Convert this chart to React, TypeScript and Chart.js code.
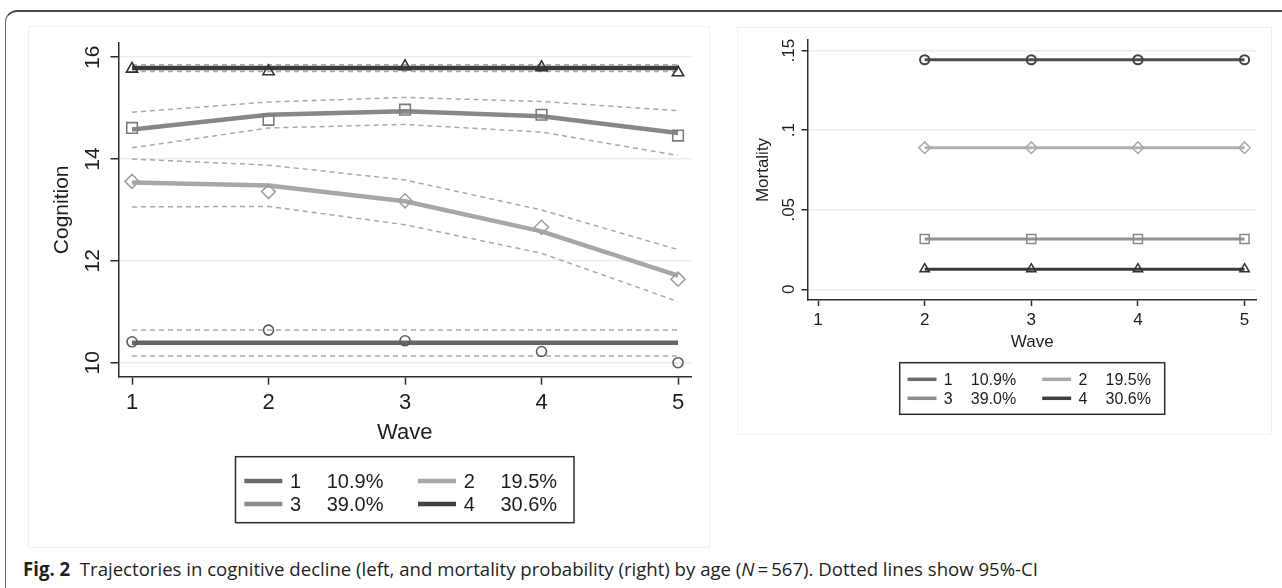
import React, { useEffect, useRef } from 'react';
import { Chart, registerables } from 'chart.js';

Chart.register(...registerables);

// ---------------- data ----------------
const waves = [1, 2, 3, 4, 5];
const mortWaves = [2, 3, 4, 5];
const cogTicks = [10, 12, 14, 16];
const cogTickLabels = ['10', '12', '14', '16'];
const mortTicks = [0, 0.05, 0.1, 0.15];
const mortTickLabels = ['0', '.05', '.1', '.15'];
const groupKeys = ['1', '2', '3', '4'];
const groupShares = ['10.9%', '19.5%', '39.0%', '30.6%'];

// fitted trajectories (cognition)
const cogFit1 = [10.39, 10.39, 10.39, 10.39, 10.39];
const cogFit2 = [13.54, 13.48, 13.17, 12.58, 11.71];
const cogFit3 = [14.58, 14.87, 14.94, 14.84, 14.51];
const cogFit4 = [15.79, 15.79, 15.79, 15.79, 15.79];
// observed means (markers)
const cogObs1 = [10.41, 10.64, 10.43, 10.22, 10.0];
const cogObs2 = [13.56, 13.36, 13.18, 12.66, 11.64];
const cogObs3 = [14.61, 14.77, 14.97, 14.87, 14.46];
const cogObs4 = [15.77, 15.72, 15.82, 15.8, 15.7];
// 95% CI bounds
const cogLo1 = [10.13, 10.13, 10.13, 10.13, 10.13];
const cogHi1 = [10.64, 10.64, 10.64, 10.64, 10.64];
const cogLo2 = [13.06, 13.07, 12.71, 12.15, 11.2];
const cogHi2 = [14.0, 13.88, 13.59, 13.0, 12.22];
const cogLo3 = [14.22, 14.61, 14.68, 14.53, 14.07];
const cogHi3 = [14.92, 15.12, 15.21, 15.13, 14.95];
const cogLo4 = [15.72, 15.72, 15.72, 15.72, 15.72];
const cogHi4 = [15.85, 15.85, 15.85, 15.85, 15.85];

// mortality probabilities
const mort1 = [0.1443, 0.1443, 0.1443, 0.1443];
const mort2 = [0.089, 0.089, 0.089, 0.089];
const mort3 = [0.0316, 0.0316, 0.0316, 0.0316];
const mort4 = [0.0127, 0.0127, 0.0127, 0.0127];

// ---------------- styles ----------------
const FONT = '"Liberation Sans", Arial, Helvetica, sans-serif';
const AXIS = '#2e2e2e';
const GRID = '#ebebeb';
const TEXT = '#1e1e1e';
const CI_COLOR = '#a9a9a9';
const pointStyles = ['circle', 'rectRot', 'rect', 'triangle'];
const leftLineColors = ['#676767', '#a7a7a7', '#878787', '#3b3b3b'];
const leftMarkColors = ['#5c5c5c', '#a0a0a0', '#7c7c7c', '#333333'];
const leftMarkRadii = [5, 7, 7.5, 6.5];
const rightLineColors = ['#4e4e4e', '#b0b0b0', '#939393', '#3a3a3a'];
const rightMarkColors = ['#444444', '#aaaaaa', '#8a8a8a', '#333333'];
const rightMarkRadii = [4.6, 5.8, 6.4, 5.4];
const legendColors = ['#6b6b6b', '#a9a9a9', '#8c8c8c', '#404040'];

const pts = (xs: number[], ys: number[]) => xs.map((x, i) => ({ x, y: ys[i] }));

function lineDs(xs: number[], ys: number[], color: string, width: number, dash: number[], order: number) {
  return {
    data: pts(xs, ys),
    showLine: true,
    borderColor: color,
    backgroundColor: color,
    borderWidth: width,
    borderDash: dash,
    borderCapStyle: 'butt',
    borderJoinStyle: 'round',
    pointRadius: 0,
    pointHoverRadius: 0,
    tension: 0,
    fill: false,
    order,
  };
}

function markDs(xs: number[], ys: number[], style: string, color: string, radius: number, bw: number) {
  return {
    data: pts(xs, ys),
    showLine: false,
    pointStyle: style,
    pointRadius: radius,
    pointHoverRadius: radius,
    pointBorderColor: color,
    pointBackgroundColor: 'rgba(0,0,0,0)',
    pointBorderWidth: bw,
    borderColor: color,
    backgroundColor: 'rgba(0,0,0,0)',
    order: 0,
  };
}

const stataLegend = {
  id: 'stataLegend',
  afterDraw(chart: any, _args: any, o: any) {
    if (!o || !o.items) return;
    const { ctx, chartArea } = chart;
    const xs = chart.scales.x;
    const left = (chartArea.left + chartArea.right) / 2 - o.width / 2;
    const top = xs.bottom + o.gap;
    ctx.save();
    ctx.strokeStyle = o.borderColor;
    ctx.lineWidth = o.borderWidth;
    ctx.strokeRect(left, top, o.width, o.height);
    ctx.font = `${o.fontSize}px ${FONT}`;
    ctx.textBaseline = 'middle';
    ctx.textAlign = 'left';
    o.items.forEach((it: any, i: number) => {
      const col = i % 2;
      const row = Math.floor(i / 2);
      const x0 = left + o.padLeft + col * o.colStep;
      const y = top + o.rowY[row];
      ctx.strokeStyle = it.color;
      ctx.lineWidth = o.lineWidth;
      ctx.lineCap = 'butt';
      ctx.beginPath();
      ctx.moveTo(x0, y);
      ctx.lineTo(x0 + o.lineLen, y);
      ctx.stroke();
      ctx.fillStyle = TEXT;
      ctx.fillText(it.key, x0 + o.lineLen + o.keyGap, y + 1);
      ctx.fillText(it.share, x0 + o.lineLen + o.keyGap + o.shareGap, y + 1);
    });
    ctx.restore();
  },
};

const legendItems = groupKeys.map((k, i) => ({ key: k, share: groupShares[i], color: legendColors[i] }));

function scales(p: any) {
  const zeroPad = (s: any) => {
    s.paddingLeft = 0;
    s.paddingRight = 0;
    s.paddingTop = 0;
    s.paddingBottom = 0;
  };
  return {
    x: {
      type: 'linear',
      position: 'bottom',
      min: p.xMin,
      max: p.xMax,
      afterBuildTicks: (s: any) => {
        s.ticks = p.xTicks.map((v: number) => ({ value: v }));
      },
      afterFit: (s: any) => {
        s.height = p.xHeight;
        zeroPad(s);
      },
      grid: {
        display: true,
        drawOnChartArea: false,
        drawTicks: true,
        tickLength: p.tl,
        tickColor: AXIS,
        tickWidth: 1.5,
      },
      border: { display: true, color: AXIS, width: 1.5 },
      ticks: {
        autoSkip: false,
        minRotation: 0,
        maxRotation: 0,
        padding: p.xPad,
        color: TEXT,
        font: { family: FONT, size: p.xFont },
        callback: (v: any) => String(v),
      },
      title: {
        display: true,
        text: 'Wave',
        color: TEXT,
        font: { family: FONT, size: p.xFont },
        padding: { top: 0, bottom: p.xTitlePad },
      },
    },
    y: {
      type: 'linear',
      position: 'left',
      min: p.yMin,
      max: p.yMax,
      afterBuildTicks: (s: any) => {
        s.ticks = p.yTicks.map((v: number) => ({ value: v }));
      },
      afterFit: (s: any) => {
        s.width = p.yWidth;
        zeroPad(s);
      },
      grid: {
        display: true,
        drawOnChartArea: true,
        color: GRID,
        lineWidth: 1.5,
        drawTicks: true,
        tickLength: p.tl,
        tickColor: AXIS,
        tickWidth: 1.5,
      },
      border: { display: true, color: AXIS, width: 1.5 },
      ticks: {
        autoSkip: false,
        minRotation: 90,
        maxRotation: 90,
        crossAlign: 'center',
        padding: p.yPad,
        color: TEXT,
        font: { family: FONT, size: p.yFont },
        callback: (_v: any, i: number) => p.yLabels[i],
      },
      title: {
        display: true,
        text: p.yTitle,
        color: TEXT,
        font: { family: FONT, size: p.yFont },
        padding: { top: p.yTitlePad, bottom: 0 },
      },
    },
  };
}

function leftConfig(): any {
  const fits = [cogFit1, cogFit2, cogFit3, cogFit4];
  const obs = [cogObs1, cogObs2, cogObs3, cogObs4];
  const los = [cogLo1, cogLo2, cogLo3, cogLo4];
  const his = [cogHi1, cogHi2, cogHi3, cogHi4];
  const datasets: any[] = [];
  fits.forEach((f, i) => {
    datasets.push(markDs(waves, obs[i], pointStyles[i], leftMarkColors[i], leftMarkRadii[i], 1.6));
    datasets.push(lineDs(waves, f, leftLineColors[i], 4.5, [], 1));
    datasets.push(lineDs(waves, los[i], CI_COLOR, 1.5, [5, 4], 2));
    datasets.push(lineDs(waves, his[i], CI_COLOR, 1.5, [5, 4], 2));
  });
  return {
    type: 'scatter',
    data: { datasets },
    plugins: [stataLegend],
    options: {
      animation: false,
      responsive: false,
      devicePixelRatio: 1,
      events: [],
      layout: { autoPadding: false, padding: { left: 0, top: 17, right: 19, bottom: 91.3 } },
      plugins: {
        legend: { display: false },
        tooltip: { enabled: false },
        stataLegend: {
          items: legendItems,
          width: 338.5,
          height: 66,
          gap: 0,
          padLeft: 8.8,
          colStep: 173.7,
          lineLen: 38,
          keyGap: 7.7,
          shareGap: 36.7,
          rowY: [24.3, 47.3],
          fontSize: 20,
          lineWidth: 4.5,
          borderColor: AXIS,
          borderWidth: 1.5,
        },
      },
      scales: scales({
        xMin: 0.901,
        xMax: 5.095,
        xTicks: waves,
        yMin: 9.725,
        yMax: 16.279,
        yTicks: cogTicks,
        yLabels: cogTickLabels,
        yTitle: 'Cognition',
        tl: 8,
        xFont: 22,
        yFont: 21,
        xPad: 5.1,
        yPad: 5.5,
        xHeight: 80,
        yWidth: 90.5,
        xTitlePad: 10.5,
        yTitlePad: 21.4,
      }),
    },
  };
}

function rightConfig(): any {
  const series = [mort1, mort2, mort3, mort4];
  const datasets: any[] = [];
  series.forEach((s, i) => {
    datasets.push(markDs(mortWaves, s, pointStyles[i], rightMarkColors[i], rightMarkRadii[i], i === 0 ? 2 : 1.5));
    datasets.push(lineDs(mortWaves, s, rightLineColors[i], 3, [], 1));
  });
  return {
    type: 'scatter',
    data: { datasets },
    plugins: [stataLegend],
    options: {
      animation: false,
      responsive: false,
      devicePixelRatio: 1,
      events: [],
      layout: { autoPadding: false, padding: { left: 0, top: 13, right: 15.2, bottom: 75 } },
      plugins: {
        legend: { display: false },
        tooltip: { enabled: false },
        stataLegend: {
          items: legendItems,
          width: 265,
          height: 51.6,
          gap: 2.7,
          padLeft: 7.8,
          colStep: 134.7,
          lineLen: 29,
          keyGap: 7.3,
          shareGap: 27,
          rowY: [16.6, 35.6],
          fontSize: 16,
          lineWidth: 3.5,
          borderColor: AXIS,
          borderWidth: 1.5,
        },
      },
      scales: scales({
        xMin: 0.902,
        xMax: 5.115,
        xTicks: waves,
        yMin: -0.0067,
        yMax: 0.1567,
        yTicks: mortTicks,
        yLabels: mortTickLabels,
        yTitle: 'Mortality',
        tl: 6,
        xFont: 17,
        yFont: 17,
        xPad: 3.8,
        yPad: 0.5,
        xHeight: 60,
        yWidth: 70.6,
        xTitlePad: 7.8,
        yTitlePad: 15.8,
      }),
    },
  };
}

const CAPTION_LEFT = 23;
const CAPTION_WIDTH = 1015;

export default function App() {
  const leftRef = useRef<HTMLCanvasElement>(null);
  const rightRef = useRef<HTMLCanvasElement>(null);
  const capRef = useRef<HTMLSpanElement>(null);

  useEffect(() => {
    const c1 = new Chart(leftRef.current as HTMLCanvasElement, leftConfig());
    const c2 = new Chart(rightRef.current as HTMLCanvasElement, rightConfig());
    const cap = capRef.current;
    if (cap) {
      cap.style.transform = 'none';
      const w = cap.getBoundingClientRect().width;
      if (w > 0) cap.style.transform = `scaleX(${CAPTION_WIDTH / w})`;
    }
    return () => {
      c1.destroy();
      c2.destroy();
    };
  }, []);

  const abs = (l: number, t: number, w: number, h: number): React.CSSProperties => ({
    position: 'absolute',
    left: l,
    top: t,
    width: w,
    height: h,
  });

  return (
    <div
      style={{
        position: 'fixed',
        left: 0,
        top: 0,
        width: 1282,
        height: 588,
        background: '#ffffff',
        overflow: 'hidden',
      }}
    >
      {/* outer figure frame (open at right and bottom) */}
      <div
        style={{
          ...abs(5, 9.5, 1400, 700),
          boxSizing: 'border-box',
          borderTop: '2px solid #4a4a4a',
          borderLeft: '1.5px solid #6a6a6a',
          borderTopLeftRadius: 12,
        }}
      />
      {/* panel backgrounds */}
      <div style={{ ...abs(28, 26, 682, 522), boxSizing: 'border-box', border: '1px solid #f0f0f0' }} />
      <div style={{ ...abs(737, 27, 535, 408), boxSizing: 'border-box', border: '1px solid #f0f0f0' }} />
      <canvas ref={leftRef} width={682} height={522} style={{ ...abs(28, 26, 682, 522) }} />
      <canvas ref={rightRef} width={535} height={408} style={{ ...abs(737, 27, 535, 408) }} />
      <div
        style={{
          position: 'absolute',
          left: CAPTION_LEFT,
          top: 560,
          whiteSpace: 'nowrap',
          fontFamily: '"Open Sans", "Noto Sans", sans-serif',
          fontSize: 19,
          lineHeight: '19px',
          color: '#231f20',
        }}
      >
        <span ref={capRef} style={{ display: 'inline-block', transformOrigin: '0 0' }}>
          <b style={{ fontWeight: 700 }}>Fig. 2</b>
          {'\u00a0\u00a0Trajectories in cognitive decline (left, and mortality probability (right) by age ('}
          <i>N</i>
          {'\u2009=\u2009567). Dotted lines show 95%-CI'}
        </span>
      </div>
    </div>
  );
}
